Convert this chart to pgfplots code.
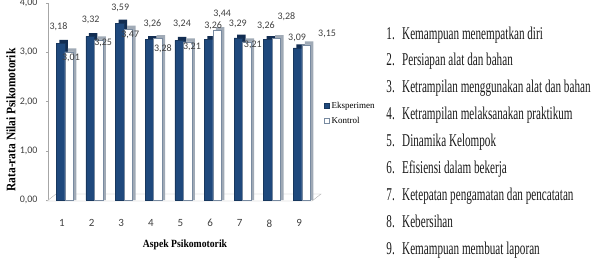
\documentclass[border=0pt]{standalone}
\usepackage{fontspec}
\setmainfont{Liberation Serif}
\newfontfamily\carl{Carlito}
\usepackage{pgfplots}
\usepackage{pgfplotstable}
\usetikzlibrary{calc}
\pgfplotsset{compat=1.18}
\definecolor{eblue}{RGB}{31,73,125}
\definecolor{eside}{RGB}{18,45,82}
\definecolor{kside}{RGB}{160,170,182}
\definecolor{kedge}{RGB}{120,138,160}
\definecolor{tickgray}{RGB}{64,64,64}

\pgfplotstableread{
x E ex ey K kx ky
1 3.18 -3.5 16.4 3.01 9 -6
2 3.32 -1 16.5 3.25 11.5 -3
3 3.59 -1 15 3.47 9 -6
4 3.26 1.5 15.5 3.28 12 -10.5
5 3.24 1.5 16.4 3.21 11.5 -5
6 3.26 3 13.5 3.44 12 16.6
7 3.29 -2 14 3.21 13 -3
8 3.26 -3.5 13.5 3.28 17 21.5
9 3.09 -2 9.8 3.15 28 11
}\data

\begin{document}
\begin{tikzpicture}
\begin{axis}[
  name=ax,
  scale only axis, width=270pt, height=197pt,
  xmin=0.527, xmax=9.64, ymin=0, ymax=4,
  axis lines*=left,
  x axis line style={draw=none},
  y axis line style={draw=gray!70},
  xtick={1,...,9},
  ytick={0,1,2,3,4},
  xtick style={draw=none},
  ytick style={draw=gray!70},
  tick align=outside,
  major tick length=2pt,
  /pgf/number format/.cd, fixed, fixed zerofill, precision=2, use comma, assume math mode=true,
  /pgfplots/.cd,
  yticklabel style={font=\carl\fontsize{10}{12}\selectfont, text=tickgray, xshift=-5pt},
  xticklabel style={font=\carl\fontsize{11}{12}\selectfont, text=tickgray, yshift=-14pt},
  xticklabel={\pgfmathprintnumber[precision=0,fixed zerofill=false]{\tick}},
  clip=false,
  legend style={at={(axis description cs:1.022,0.508)}, anchor=north west,
    draw=none, fill=none, font=\fontsize{9}{10}\selectfont, row sep=3pt,
    inner sep=0pt, cells={anchor=west}},
  legend image code/.code={\draw[#1] (0pt,-2.5pt) rectangle (5pt,2.5pt);},
]
% floor (drawn first, behind bars)
\draw[gray!60, fill=white] ([xshift=-1pt,yshift=-1pt]rel axis cs:0,0) -- ([xshift=-6pt,yshift=-1pt]rel axis cs:1,0)
  -- ([xshift=3pt,yshift=6pt]rel axis cs:1,0) -- ([xshift=8pt,yshift=6pt]rel axis cs:0,0) -- cycle;
% side (depth) faces
\addplot[ybar, bar width=8.5pt, bar shift=1.5pt, fill=eside, draw=none, forget plot]
  table[x=x, y expr=\thisrow{E}+0.07]{\data};
\addplot[ybar, bar width=8.5pt, bar shift=-1.5pt, fill=eblue, draw=eblue!75!black, line width=0.4pt]
  table[x=x, y=E]{\data};
\addlegendentry{Eksperimen}
\addplot[ybar, bar width=8.5pt, bar shift=10pt, fill=kside, draw=none, forget plot]
  table[x=x, y expr=\thisrow{K}+0.07]{\data};
\addplot[ybar, bar width=8.5pt, bar shift=7pt, fill=white, draw=kedge, line width=0.5pt]
  table[x=x, y=K]{\data};
\addlegendentry{Kontrol}
% value labels (unshifted plots, offsets from the tick)
\addplot[draw=none, mark=none, forget plot,
  nodes near coords,
  visualization depends on={\thisrow{ex}\as\myex},
  visualization depends on={\thisrow{ey}\as\myey},
  every node near coord/.append style={anchor=center, xshift=\myex pt, yshift=\myey pt,
    font=\carl\fontsize{10}{12}\selectfont, text=tickgray, inner sep=0pt}]
  table[x=x, y=E]{\data};
\addplot[draw=none, mark=none, forget plot,
  nodes near coords,
  visualization depends on={\thisrow{kx}\as\mykx},
  visualization depends on={\thisrow{ky}\as\myky},
  every node near coord/.append style={anchor=center, xshift=\mykx pt, yshift=\myky pt,
    font=\carl\fontsize{10}{12}\selectfont, text=tickgray, inner sep=0pt}]
  table[x=x, y=K]{\data};
\end{axis}
\pgfresetboundingbox
\begin{scope}[x=1pt,y=1pt,shift={($(ax.south west)+(-48pt,-63pt)$)}]
\useasboundingbox (0,0) rectangle (591,263);
% axis titles
\node[font=\bfseries\fontsize{11}{12}\selectfont] at (185,18) {\scalebox{0.88}[1]{Aspek Psikomotorik}};
\node[font=\bfseries\fontsize{13}{14}\selectfont, rotate=90] at (11,143) {\scalebox{0.88}[1]{Rata-rata Nilai Psikomotorik}};
% list
\foreach \t [count=\i] in {Kemampuan menempatkan diri, Persiapan alat dan bahan, Ketrampilan menggunakan alat dan bahan, Ketrampilan melaksanakan praktikum, Dinamika Kelompok, Efisiensi dalam bekerja, Ketepatan pengamatan dan pencatatan, Kebersihan, Kemampuan membuat laporan}{
  \pgfmathsetmacro{\yy}{224-26.9*(\i-1)}
  \node[anchor=base east, inner sep=0pt, font=\fontsize{18}{20}\selectfont, text=black!90] at (395,\yy) {\scalebox{0.62}[1]{\i.}};
  \node[anchor=base west, inner sep=0pt, font=\fontsize{18}{20}\selectfont, text=black!90] at (402,\yy) {\scalebox{0.62}[1]{\t}};
}
\end{scope}
\end{tikzpicture}
\end{document}
